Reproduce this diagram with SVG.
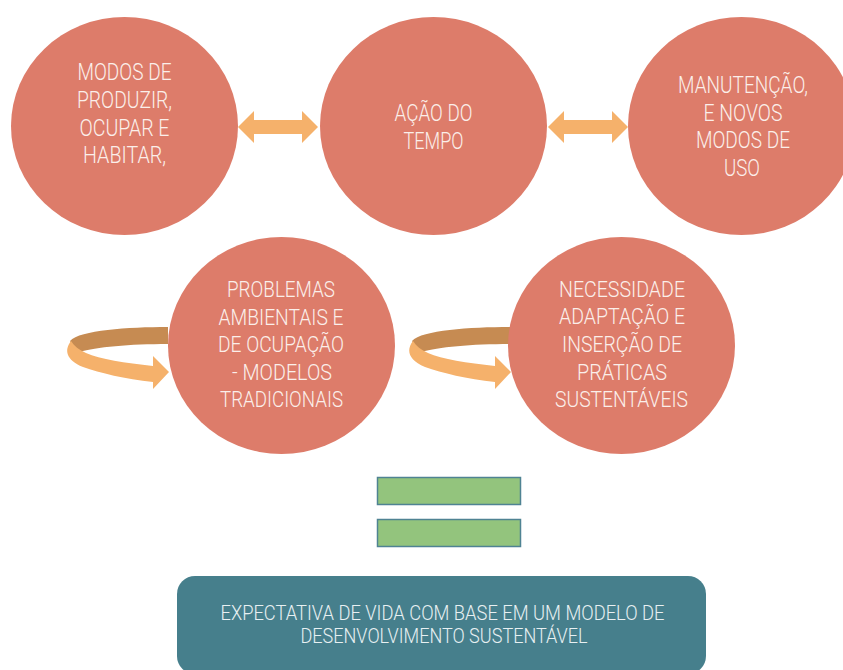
<svg xmlns="http://www.w3.org/2000/svg" width="843" height="670" viewBox="0 0 843 670">
<style>
.c{fill:#dd7c6a}
.t{font-family:Roboto,"Liberation Sans",sans-serif;font-weight:300;fill:#fbefea;text-anchor:middle}
.t1{font-size:23px}
.t2{font-size:22px}
.da{fill:#f5b16b}
.back{fill:#c68b52}
.front{fill:#f5b16b}
.eq{fill:#93c47d;stroke:#4f8393;stroke-width:1.5}
.bt{font-family:Roboto,"Liberation Sans",sans-serif;font-weight:300;fill:#e8f0f2;text-anchor:middle;font-size:21px}
</style>
<defs>
<polygon id="dbl" points="238,127 254,111 254,120 302,120 302,111 318,127 302,143 302,134 254,134 254,143"/>
<g id="loop">
<path class="back" d="M168,327 C128,327 80,330 70,341 C72,346 76,350 80,352 C95,347 130,344 168,344 Z"/>
<path class="front" d="M71,341 C64,350 66,360 83,367 C100,373 125,379 153,382 L153,389 L169,372 L153,356 L153,366 C125,363 100,359 86,353 C79,350 74,346 71,341 Z"/>
</g>
</defs>
<rect width="843" height="670" fill="#ffffff"/>
<g id="connectors">
<use href="#dbl" class="da"/>
<use href="#dbl" class="da" transform="translate(310,0)"/>
<use href="#loop"/>
<use href="#loop" transform="translate(342,0)"/>
</g>
<g id="n1">
<ellipse class="c" cx="124.5" cy="126" rx="113.5" ry="109"/>
<text class="t t1" x="124.5" y="80" textLength="94" lengthAdjust="spacingAndGlyphs">MODOS DE</text>
<text class="t t1" x="124.5" y="108" textLength="95" lengthAdjust="spacingAndGlyphs">PRODUZIR,</text>
<text class="t t1" x="124.5" y="136" textLength="90" lengthAdjust="spacingAndGlyphs">OCUPAR E</text>
<text class="t t1" x="124.5" y="163" textLength="83" lengthAdjust="spacingAndGlyphs">HABITAR,</text>
</g>
<g id="n2">
<ellipse class="c" cx="433.5" cy="126" rx="113.5" ry="109"/>
<text class="t t1" x="433.5" y="121" textLength="78" lengthAdjust="spacingAndGlyphs">AÇÃO DO</text>
<text class="t t1" x="433.5" y="149" textLength="60" lengthAdjust="spacingAndGlyphs">TEMPO</text>
</g>
<g id="n3">
<ellipse class="c" cx="741.5" cy="126" rx="113.5" ry="109"/>
<text class="t t1" x="743" y="93" textLength="130" lengthAdjust="spacingAndGlyphs">MANUTENÇÃO,</text>
<text class="t t1" x="743" y="121" textLength="79" lengthAdjust="spacingAndGlyphs">E NOVOS</text>
<text class="t t1" x="743" y="148" textLength="94" lengthAdjust="spacingAndGlyphs">MODOS DE</text>
<text class="t t1" x="742" y="176" textLength="36" lengthAdjust="spacingAndGlyphs">USO</text>
</g>
<g id="n4">
<ellipse class="c" cx="281.5" cy="345.5" rx="113.5" ry="108.5"/>
<text class="t t2" x="281" y="297" textLength="108" lengthAdjust="spacingAndGlyphs">PROBLEMAS</text>
<text class="t t2" x="281" y="325" textLength="125" lengthAdjust="spacingAndGlyphs">AMBIENTAIS E</text>
<text class="t t2" x="281" y="352" textLength="126" lengthAdjust="spacingAndGlyphs">DE OCUPAÇÃO</text>
<text class="t t2" x="282" y="380" textLength="100" lengthAdjust="spacingAndGlyphs">- MODELOS</text>
<text class="t t2" x="281.5" y="407" textLength="123" lengthAdjust="spacingAndGlyphs">TRADICIONAIS</text>
</g>
<g id="n5">
<ellipse class="c" cx="621.5" cy="345.5" rx="113.5" ry="108.5"/>
<text class="t t2" x="622" y="297" textLength="126" lengthAdjust="spacingAndGlyphs">NECESSIDADE</text>
<text class="t t2" x="622" y="324" textLength="126" lengthAdjust="spacingAndGlyphs">ADAPTAÇÃO E</text>
<text class="t t2" x="622" y="352" textLength="120" lengthAdjust="spacingAndGlyphs">INSERÇÃO DE</text>
<text class="t t2" x="622" y="380" textLength="90" lengthAdjust="spacingAndGlyphs">PRÁTICAS</text>
<text class="t t2" x="621.5" y="407" textLength="133" lengthAdjust="spacingAndGlyphs">SUSTENTÁVEIS</text>
</g>
<g id="equals">
<rect class="eq" x="377.5" y="477.5" width="143" height="27"/>
<rect class="eq" x="377.5" y="519.5" width="143" height="27"/>
</g>
<g id="result">
<rect x="177" y="576" width="529" height="98" rx="18" fill="#467f8c"/>
<text class="bt" x="442.5" y="620" textLength="444" lengthAdjust="spacingAndGlyphs">EXPECTATIVA DE VIDA COM BASE EM UM MODELO DE</text>
<text class="bt" x="444" y="643" textLength="287" lengthAdjust="spacingAndGlyphs">DESENVOLVIMENTO SUSTENTÁVEL</text>
</g>
</svg>
